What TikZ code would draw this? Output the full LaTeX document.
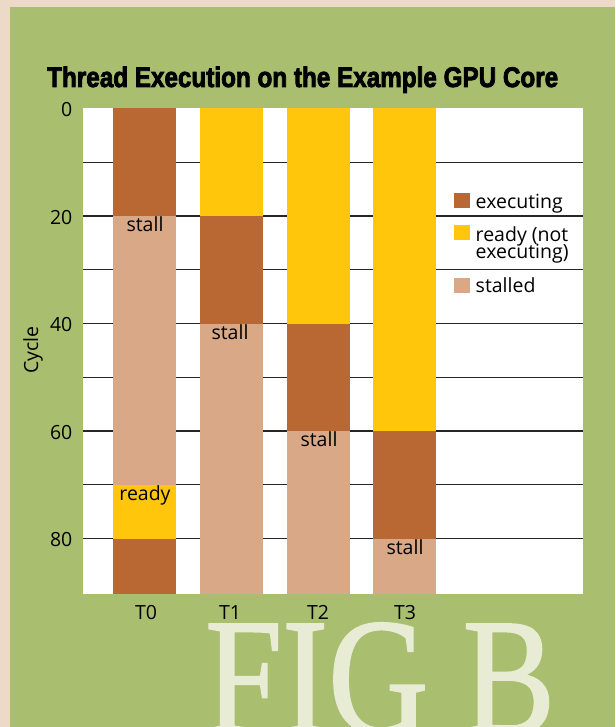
\documentclass[tikz,border=0pt]{standalone}
\usepackage{fontspec}
\usepackage{graphicx}
\setmainfont{Open Sans}
\newfontfamily\titlefont[FakeBold=3]{Liberation Sans}
\newfontfamily\figfont[FakeBold=1.2]{Liberation Serif}

\definecolor{paper}{RGB}{237,217,199}
\definecolor{moss}{RGB}{170,190,112}
\definecolor{execbrown}{RGB}{185,104,52}
\definecolor{readyyellow}{RGB}{255,198,11}
\definecolor{stalltan}{RGB}{217,168,134}
\definecolor{figcream}{RGB}{232,236,212}

\tikzset{
	execbar/.style={fill=execbrown},
	readybar/.style={fill=readyyellow},
	stallbar/.style={fill=stalltan},
	gridline/.style={black!85, line width=1.4pt},
	chartfont/.style={font=\fontsize{19.5pt}{22pt}\selectfont, inner sep=0.5pt},
	barlabel/.style={chartfont, anchor=north},
	ticklabel/.style={chartfont, anchor=east, yshift=-1.5pt},
	keytext/.style={chartfont, anchor=base west}
}

\begin{document}
\begin{tikzpicture}[x=1pt, y=-1pt]
	%background
	\clip (0,0) rectangle (615,727);
	\fill[paper] (0,0) rectangle (615,727);
	\fill[moss] (10,7) rectangle (615,727);
	\node[anchor=base west, inner sep=0, text=figcream] (figb) at (205,733)
		{\resizebox{350pt}{110pt}{\figfont FIG B}};

	%title
	\node[anchor=base west, inner sep=0] (title) at (47,87)
		{\resizebox{511pt}{20.5pt}{\titlefont\bfseries Thread Execution on the Example GPU Core}};

	\begin{scope}[shift={(0,108.5)}, y=-5.375pt]
		%grid
		\fill[white] (83,0) rectangle (583,90.3);
		\foreach \c in {10,20,...,80}
			\draw [gridline] (83,\c) -- (583,\c);

		%bars
		\foreach \x/\a/\b/\s in {
			113/0/20/execbar, 113/20/70/stallbar, 113/70/80/readybar, 113/80/90.3/execbar,
			200/0/20/readybar, 200/20/40/execbar, 200/40/90.3/stallbar,
			286.5/0/40/readybar, 286.5/40/60/execbar, 286.5/60/90.3/stallbar,
			373/0/60/readybar, 373/60/80/execbar, 373/80/90.3/stallbar}
			\fill [\s] (\x,\a) rectangle (\x+63,\b);

		%labels
		\node[barlabel] (stall0) at (145,20) {stall};
		\node[barlabel] (ready0) at (145,70) {ready};
		\node[barlabel] (stall1) at (230,40) {stall};
		\node[barlabel] (stall2) at (319,60) {stall};
		\node[barlabel] (stall3) at (405,80) {stall};

		%axis
		\foreach \c in {0,20,...,80}
			\node[ticklabel] (tick\c) at (73,\c) {\c};
	\end{scope}

	\node[chartfont, rotate=90] (cycle) at (33,350) {Cycle};
	\foreach \t/\x in {0/146, 1/230, 2/318, 3/405}
		\node[chartfont, anchor=base] (T\t) at (\x,619) {T\t};

	%legend
	\fill[execbar] (454,193) rectangle (470,208);
	\fill[readybar] (454,225) rectangle (470,240);
	\fill[stallbar] (454,278) rectangle (470,293);
	\node[keytext] (keyexec) at (475,208) {executing};
	\node[keytext] (keyready) at (475,241) {ready (not};
	\node[keytext] (keyready2) at (475,258) {executing)};
	\node[keytext] (keystall) at (475,292) {stalled};

\end{tikzpicture}
\end{document}
